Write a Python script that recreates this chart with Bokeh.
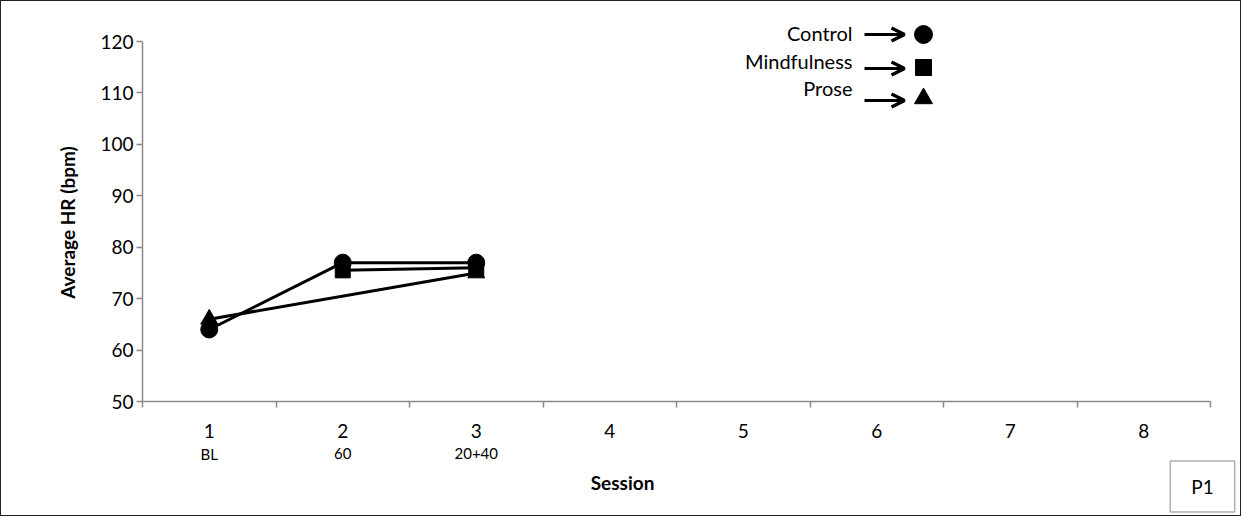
import math
from bokeh.plotting import figure
from bokeh.models import Range1d, FixedTicker, Label, Arrow, OpenHead
from bokeh.embed import file_html
from bokeh.resources import INLINE

# ---------------- data ----------------
sessions = [1, 2, 3, 4, 5, 6, 7, 8]
session_labels = ["1", "2", "3", "4", "5", "6", "7", "8"]
session_sublabels = ["BL", "60", "20+40", "", "", "", "", ""]
y_ticks = [50, 60, 70, 80, 90, 100, 110, 120]

series_names = ["Control", "Mindfulness", "Prose"]
series_markers = ["circle", "square", "triangle"]
control = [64, 77, 77]
mindfulness = [float("nan"), 75.5, 76]
prose = [66, float("nan"), 75]
series_values = [control, mindfulness, prose]

# ---------------- geometry ----------------
W, H = 1241, 516                 # figure size (plus 1px css border each side)
AX_L, AX_R = 141, 1209           # pixel x of axis start / end (figure coords)
AX_T, AX_B = 40, 400             # pixel y of top tick / x axis (figure coords)
xa0, xa1 = sessions[0] - 0.5, sessions[-1] + 0.5
ya0, ya1 = y_ticks[0], y_ticks[-1]
xs_per_px = (xa1 - xa0) / (AX_R - AX_L)
ys_per_px = (ya1 - ya0) / (AX_B - AX_T)
X0 = xa0 - AX_L * xs_per_px
X1 = xa1 + (W - AX_R) * xs_per_px
Y1 = ya1 + AX_T * ys_per_px
Y0 = ya0 - (H - AX_B) * ys_per_px

FONT = "Lato"
AXIS_GRAY = "#8a8a8a"


def to_x(px):   # reference pixel -> data x
    return X0 + (px - 1) * xs_per_px


def to_y(py):   # reference pixel -> data y
    return Y1 - (py - 1) * ys_per_px


p = figure(width=W, height=H, x_range=Range1d(X0, X1), y_range=Range1d(Y0, Y1),
           output_backend="svg", toolbar_location=None,
           min_border_left=0, min_border_right=0, min_border_top=0, min_border_bottom=0)
p.styles = {"border": "1px solid #222222"}
p.grid.visible = False
p.outline_line_color = None
p.background_fill_color = "white"
p.border_fill_color = "white"

# x axis (drawn at y = 50 inside the frame)
xa = p.xaxis[0]
xa.fixed_location = ya0
xa.bounds = (xa0, xa1)
xa.ticker = FixedTicker(ticks=sessions, minor_ticks=[s - 0.5 for s in sessions] + [sessions[-1] + 0.5])
xa.major_label_overrides = {s: l for s, l in zip(sessions, session_labels)}
xa.major_tick_out = 0
xa.major_tick_in = 0
xa.minor_tick_out = 6
xa.minor_tick_in = 0
xa.axis_line_color = AXIS_GRAY
xa.minor_tick_line_color = AXIS_GRAY
xa.axis_line_width = 1.5
xa.minor_tick_line_width = 1.5
xa.major_label_text_font = FONT
xa.major_label_text_font_size = "19px"
xa.major_label_text_color = "black"
xa.major_label_standoff = 16

# y axis (drawn at x = 0.5 inside the frame)
ya = p.yaxis[0]
ya.fixed_location = xa0
ya.bounds = (ya0, ya1)
ya.ticker = FixedTicker(ticks=y_ticks)
ya.major_tick_out = 6
ya.major_tick_in = 0
ya.minor_tick_out = 0
ya.minor_tick_in = 0
ya.axis_line_color = AXIS_GRAY
ya.major_tick_line_color = AXIS_GRAY
ya.axis_line_width = 1.5
ya.major_tick_line_width = 1.5
ya.major_label_text_font = FONT
ya.major_label_text_font_size = "19px"
ya.major_label_text_color = "black"
ya.major_label_standoff = 3

# y axis title
p.add_layout(Label(x=to_x(67), y=to_y(222), text="Average HR (bpm)", angle=math.pi / 2,
                   text_align="center", text_baseline="middle",
                   text_font=FONT, text_font_style="bold", text_font_size="19px", text_color="black"))

# series
marker_sizes = {"circle": 17, "square": 15, "triangle": 17}
for name, mk, vals in zip(series_names, series_markers, series_values):
    xs = [s for s, v in zip(sessions, vals) if not math.isnan(v)]
    ys = [v for v in vals if not math.isnan(v)]
    p.line(xs, ys, line_color="black", line_width=3)
    p.scatter(xs, ys, marker=mk, size=marker_sizes[mk], fill_color="black", line_color="black")

# custom legend: text -> arrow -> marker
legend_text_py = [32, 60, 87]
legend_arrow_py = [34, 68, 100]
legend_marker_py = [34, 67, 98]
for name, mk, tpy, apy, mpy in zip(series_names, series_markers, legend_text_py, legend_arrow_py, legend_marker_py):
    p.add_layout(Label(x=to_x(852), y=to_y(tpy), text=name, text_align="right", text_baseline="middle",
                       text_font=FONT, text_font_size="20px", text_color="black"))
    p.add_layout(Arrow(end=OpenHead(size=13, line_width=3.5, line_color="black"),
                       x_start=to_x(864), y_start=to_y(apy), x_end=to_x(904), y_end=to_y(apy),
                       line_width=3, line_color="black"))
    p.scatter([to_x(923)], [to_y(mpy)], marker=mk, size=marker_sizes[mk] + 1,
              fill_color="black", line_color="black")

# sub labels under session numbers
for s, sub in zip(sessions, session_sublabels):
    if sub:
        p.add_layout(Label(x=s, y=to_y(453), text=sub, text_align="center", text_baseline="middle",
                           text_font=FONT, text_font_size="15px", text_color="black"))

# x axis title
p.add_layout(Label(x=to_x(622), y=to_y(482), text="Session", text_align="center", text_baseline="middle",
                   text_font=FONT, text_font_style="bold", text_font_size="19px", text_color="black"))

# P1 box
p.add_layout(Label(x=to_x(1202), y=to_y(486), text="P1", text_align="center", text_baseline="middle",
                   text_font=FONT, text_font_size="19px", text_color="black",
                   border_line_color="#b0b0b0", border_line_width=1.5,
                   background_fill_color="white",
                   padding=dict(left=21, right=21, top=14, bottom=14)))

open("out.html", "w").write(file_html(p, INLINE))
